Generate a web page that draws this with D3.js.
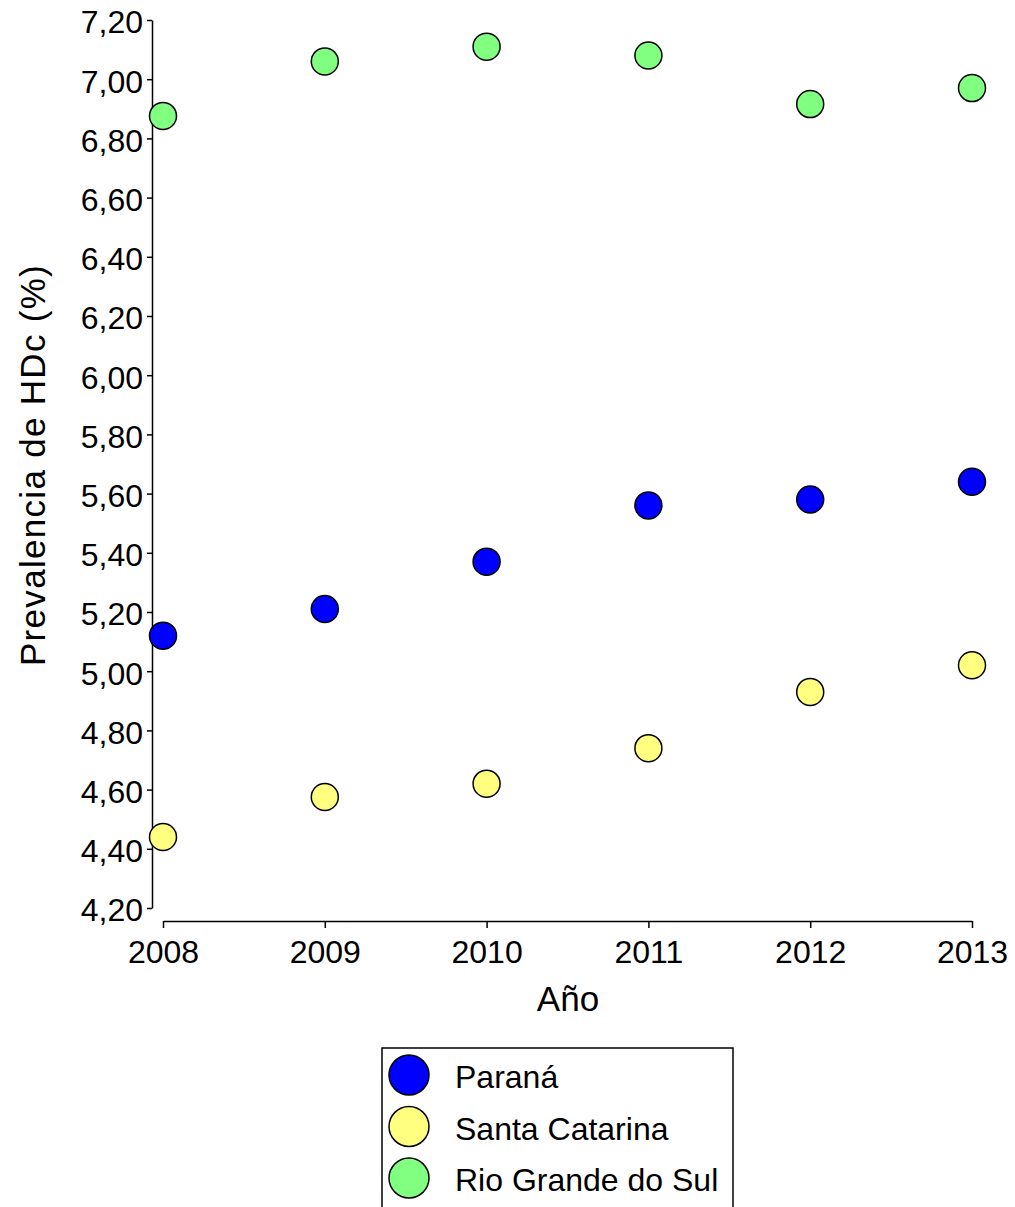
<!DOCTYPE html>
<html>
<head>
<meta charset="utf-8">
<script src="https://cdn.jsdelivr.net/npm/d3@7"></script>
<style>
  body { margin: 0; background: #fff; }
  text { font-family: Arial, "Liberation Sans", sans-serif; }
</style>
</head>
<body>
<svg id="chart"></svg>
<script>
// data
const years = [2008, 2009, 2010, 2011, 2012, 2013];
const parana = [5.12, 5.21, 5.37, 5.56, 5.58, 5.64];
const santaCatarina = [4.44, 4.575, 4.62, 4.74, 4.93, 5.02];
const rioGrande = [6.876, 7.06, 7.11, 7.08, 6.916, 6.97];
const seriesNames = ["Paraná", "Santa Catarina", "Rio Grande do Sul"];
const seriesColors = ["#0000ff", "#ffff80", "#80ff80"];
const yTicks = [4.2, 4.4, 4.6, 4.8, 5.0, 5.2, 5.4, 5.6, 5.8, 6.0, 6.2, 6.4, 6.6, 6.8, 7.0, 7.2];

const series = [parana, santaCatarina, rioGrande];

const width = 1015, height = 1207;
const svg = d3.select("#chart").attr("width", width).attr("height", height);

// scales
const xScale = d3.scaleLinear().domain([2008, 2013]).range([163, 972]);
const yScale = d3.scaleLinear().domain([4.2, 7.2]).range([908, 20]);

const fmt = d => d3.format(".2f")(d).replace(".", ",");

// y axis
const yAxis = svg.append("g")
  .attr("transform", "translate(152,0)")
  .call(d3.axisLeft(yScale).tickValues(yTicks).tickFormat(fmt).tickSize(5).tickSizeOuter(0).tickPadding(4));
yAxis.selectAll("text").attr("font-size", 32).attr("fill", "#000").attr("dy", "0.4em");

// x axis
const xAxis = svg.append("g")
  .attr("transform", "translate(0,921)")
  .call(d3.axisBottom(xScale).tickValues(years).tickFormat(d3.format("d")).tickSize(7).tickSizeOuter(0).tickPadding(12));
xAxis.selectAll("text").attr("font-size", 32).attr("fill", "#000");

svg.selectAll(".domain, .tick line").attr("stroke", "#000").attr("stroke-width", 1.5);

// axis titles
svg.append("text")
  .attr("x", 568).attr("y", 1011)
  .attr("text-anchor", "middle")
  .attr("font-size", 35)
  .text("Año");

svg.append("text")
  .attr("transform", "translate(45,465) rotate(-90)")
  .attr("text-anchor", "middle")
  .attr("font-size", 35)
  .attr("letter-spacing", 1.3)
  .text("Prevalencia de HDc (%)");

// points
series.forEach((vals, s) => {
  svg.append("g").selectAll("circle")
    .data(vals)
    .enter()
    .append("circle")
    .attr("cx", (d, i) => xScale(years[i]))
    .attr("cy", d => yScale(d))
    .attr("r", 13.5)
    .attr("fill", seriesColors[s])
    .attr("stroke", "#000")
    .attr("stroke-width", 1.5);
});

// legend
const legend = svg.append("g");
legend.append("rect")
  .attr("x", 382).attr("y", 1048)
  .attr("width", 351).attr("height", 175)
  .attr("fill", "#fff").attr("stroke", "#000").attr("stroke-width", 1.5);

seriesNames.forEach((name, i) => {
  const cy = 1075 + i * 51.5;
  legend.append("circle")
    .attr("cx", 409).attr("cy", cy).attr("r", 20)
    .attr("fill", seriesColors[i]).attr("stroke", "#000").attr("stroke-width", 1.5);
  legend.append("text")
    .attr("x", 455).attr("y", cy + 13)
    .attr("font-size", 32)
    .text(name);
});
</script>
</body>
</html>
